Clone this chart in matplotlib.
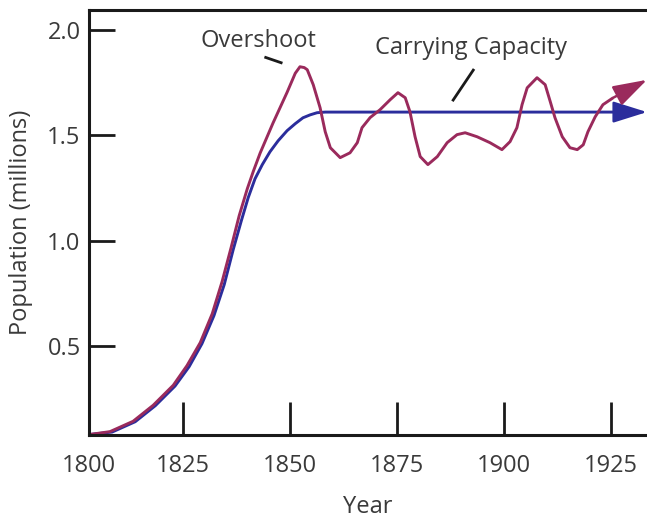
import matplotlib.pyplot as plt

plt.rcParams['font.family'] = ['Open Sans', 'DejaVu Sans']

# values (year, millions)
years_over = [1803.0, 1807.9, 1813.3, 1818.0, 1822.7, 1825.9, 1829.0, 1831.8, 1834.1,
              1836.2, 1838.1, 1840.0, 1841.4, 1843.0, 1846.0, 1849.3, 1851.2, 1852.3,
              1853.3, 1854.0, 1855.4, 1857.0, 1858.2, 1859.4, 1861.7, 1864.0, 1865.7,
              1866.8, 1868.7, 1871.0, 1873.4, 1875.2, 1876.9, 1878.0, 1879.2, 1880.4,
              1882.2, 1884.4, 1886.7, 1889.0, 1890.9, 1893.7, 1896.7, 1899.5, 1901.4,
              1903.0, 1904.2, 1905.4, 1907.7, 1909.6, 1910.8, 1911.9, 1913.6, 1915.4,
              1917.1, 1918.5, 1919.6, 1921.3, 1923.1, 1925.5]
pop_over = [0.082, 0.096, 0.145, 0.221, 0.316, 0.409, 0.518, 0.655, 0.807,
            0.968, 1.120, 1.248, 1.330, 1.417, 1.559, 1.705, 1.795, 1.826,
            1.822, 1.812, 1.741, 1.632, 1.518, 1.442, 1.395, 1.418, 1.466,
            1.537, 1.585, 1.622, 1.670, 1.703, 1.679, 1.613, 1.494, 1.400,
            1.362, 1.400, 1.466, 1.504, 1.513, 1.494, 1.466, 1.433, 1.471,
            1.537, 1.646, 1.726, 1.774, 1.741, 1.660, 1.584, 1.494, 1.442,
            1.433, 1.456, 1.518, 1.589, 1.646, 1.679]
over_tip = (1933.4, 1.764)

years_cap = [1803.0, 1808.4, 1813.8, 1818.5, 1823.1, 1826.4, 1829.4, 1832.2, 1834.6,
             1836.7, 1838.6, 1840.2, 1841.8, 1843.5, 1845.3, 1847.2, 1849.3, 1851.2,
             1853.0, 1854.7, 1856.3, 1858.2, 1860.5, 1926.0]
pop_cap = [0.082, 0.094, 0.143, 0.219, 0.312, 0.404, 0.513, 0.646, 0.793,
           0.959, 1.096, 1.205, 1.295, 1.362, 1.423, 1.475, 1.523, 1.556,
           1.584, 1.598, 1.608, 1.611, 1.611, 1.611]
cap_tip = (1933.4, 1.611)

xticks = [1803.0, 1825, 1850, 1875, 1900, 1925]
xlabels = ['1800', '1825', '1850', '1875', '1900', '1925']
yticks = [0.5, 1.0, 1.5, 2.0]

magenta = '#9a2a5c'
blue = '#2b2d9c'
txt = '#3a3a3a'

fig = plt.figure(figsize=(6.47, 5.23), dpi=100)
ax = fig.add_axes([89 / 647, 1 - 435 / 523, 1 - 89 / 647, 425 / 523])

ax.plot(years_cap, pop_cap, color=blue, lw=2.1, solid_capstyle='butt')
ax.plot(years_over, pop_over, color=magenta, lw=2.1, solid_capstyle='butt')
for (xs, ys, tip, c) in [(years_cap, pop_cap, cap_tip, blue),
                         (years_over, pop_over, over_tip, magenta)]:
    ax.annotate('', xy=tip, xytext=(xs[-1], ys[-1]), annotation_clip=False,
                arrowprops=dict(arrowstyle='-|>,head_length=0.7,head_width=0.22',
                                mutation_scale=30, color=c, lw=1.8,
                                shrinkA=0, shrinkB=0))

ax.set_xlim(1803.0, 1933.4)
ax.set_ylim(0.08, 2.095)
ax.set_xticks(xticks)
ax.set_xticklabels(xlabels)
ax.set_yticks(yticks)
ax.set_yticklabels(['0.5', '1.0', '1.5', '2.0'])

for s in ['left', 'bottom', 'top']:
    ax.spines[s].set_linewidth(2.2)
    ax.spines[s].set_color('#1a1a1a')
ax.spines['right'].set_visible(False)
ax.tick_params(axis='x', direction='in', length=24, width=2.0, color='#1a1a1a',
               pad=14, labelsize=17, labelcolor=txt)
ax.tick_params(axis='y', direction='in', length=19, width=2.0, color='#1a1a1a',
               pad=6, labelsize=17, labelcolor=txt)

ax.set_xlabel('Year', fontsize=17, color=txt, labelpad=12)
ax.set_ylabel('Population (millions)', fontsize=17, color=txt, labelpad=10)

ax.text(1842.6, 1.95, 'Overshoot', fontsize=17, color=txt, ha='center', va='center')
ax.plot([1844.3, 1847.9], [1.87, 1.845], color='#1a1a1a', lw=2)
ax.text(1892.3, 1.915, 'Carrying Capacity', fontsize=17, color=txt, ha='center', va='center')
ax.plot([1892.8, 1888.1], [1.81, 1.668], color='#1a1a1a', lw=2)

fig.savefig('out.png', dpi=100)
